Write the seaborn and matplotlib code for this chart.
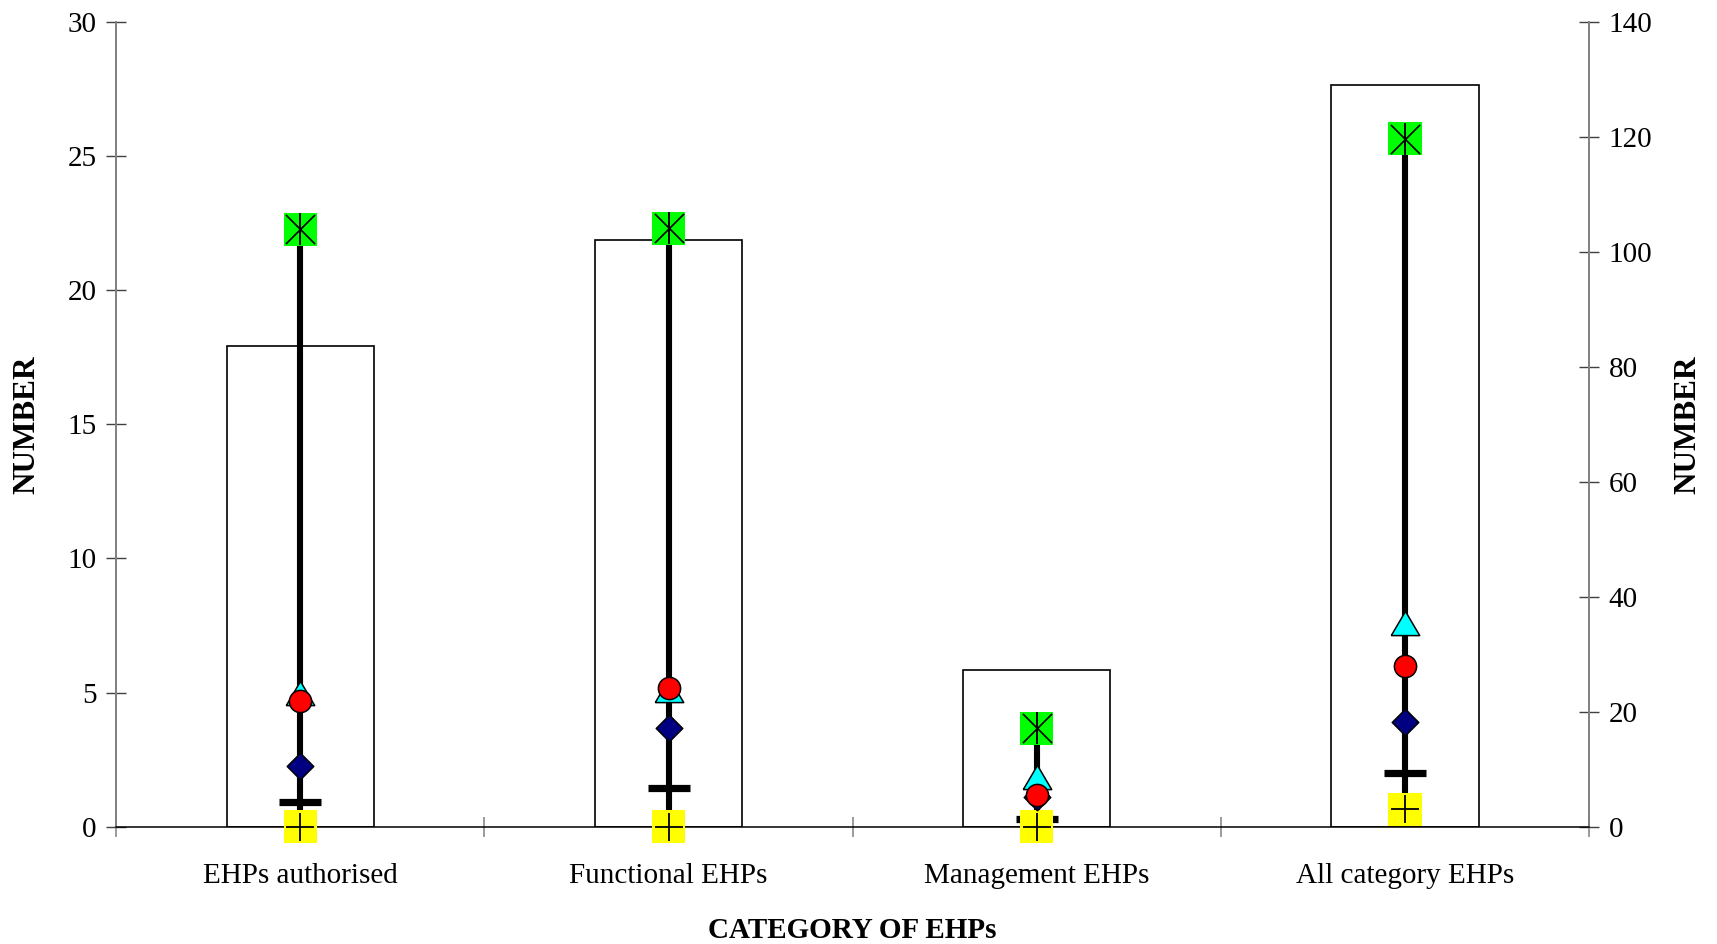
import numpy as np
import pandas as pd
import matplotlib
matplotlib.use("Agg")
import matplotlib.pyplot as plt
import seaborn as sns

# ---------------- data ----------------
categories = ["EHPs authorised", "Functional EHPs", "Management EHPs", "All category EHPs"]
bar_totals = [83.7, 102.1, 27.3, 129.0]      # right axis (bars)
max_vals = [22.26, 22.3, 3.67, 25.65]        # green square with asterisk
upper_vals = [4.99, 5.10, 1.85, 7.61]        # cyan triangle
mean_vals = [4.70, 5.16, 1.19, 5.98]         # red circle
median_vals = [2.27, 3.69, 1.10, 3.91]       # navy diamond
lower_vals = [0.92, 1.43, 0.28, 2.02]        # black dash
min_vals = [0.0, 0.0, 0.0, 0.65]             # yellow square with plus
left_ticks = [0, 5, 10, 15, 20, 25, 30]
right_ticks = [0, 20, 40, 60, 80, 100, 120, 140]

# ---------------- style ----------------
sns.set_theme(style="white")
plt.rcParams["font.family"] = ["Liberation Serif", "DejaVu Serif"]
plt.rcParams["text.color"] = "black"
plt.rcParams["axes.labelcolor"] = "black"

FS = 21
fig = plt.figure(figsize=(17.17, 9.44), dpi=100)
ax = fig.add_axes([0.0676, 0.1242, 0.858, 0.8527])
ax2 = ax.twinx()

# bars on the right axis
df_bar = pd.DataFrame({"category": categories, "total": bar_totals})
sns.barplot(data=df_bar, x="category", y="total", ax=ax2, color="white",
            edgecolor="black", linewidth=1.2, width=0.4, saturation=1)

# markers on the left axis
xpos = np.arange(len(categories))
ax.vlines(xpos, min_vals, max_vals, color="black", lw=4.4, zorder=2)

sns.scatterplot(x=xpos, y=lower_vals, ax=ax, marker="_", s=30 ** 2,
                color="black", linewidth=5.2, zorder=3, clip_on=False)
sns.scatterplot(x=xpos, y=min_vals, ax=ax, marker="s", s=24 ** 2,
                color="#FFFF00", edgecolor="none", linewidth=0, zorder=4, clip_on=False)
sns.scatterplot(x=xpos, y=min_vals, ax=ax, marker="+", s=20 ** 2,
                color="black", linewidth=1.3, zorder=5, clip_on=False)
sns.scatterplot(x=xpos, y=median_vals, ax=ax, marker="D", s=13.5 ** 2,
                color="#000080", edgecolor="black", linewidth=1.1, zorder=5)
tri = [(-1, -0.85), (1, -0.85), (0, 0.85), (-1, -0.85)]
sns.scatterplot(x=xpos, y=upper_vals, ax=ax, marker=tri, s=20.5 ** 2,
                color="#00FFFF", edgecolor="black", linewidth=1.1, zorder=6)
sns.scatterplot(x=xpos, y=mean_vals, ax=ax, marker="o", s=16 ** 2,
                color="#FF0000", edgecolor="black", linewidth=1.1, zorder=7)
sns.scatterplot(x=xpos, y=max_vals, ax=ax, marker="s", s=24 ** 2,
                color="#00FF00", edgecolor="none", linewidth=0, zorder=8)
sns.scatterplot(x=xpos, y=max_vals, ax=ax, marker="x", s=21 ** 2,
                color="black", linewidth=1.2, zorder=9)
sns.scatterplot(x=xpos, y=max_vals, ax=ax, marker="|", s=23 ** 2,
                color="black", linewidth=1.4, zorder=9)

# layering: markers axis above bar axis
ax.set_zorder(2)
ax2.set_zorder(1)
ax.patch.set_visible(False)

# ---------------- axes ----------------
ax.set_xlim(-0.5, len(categories) - 0.5)
ax.set_ylim(0, 30)
ax2.set_ylim(0, 140)
ax.set_yticks(left_ticks)
ax2.set_yticks(right_ticks)
ax.set_xticks(xpos, labels=categories)
ax.set_xticks(np.arange(len(categories) + 1) - 0.5, minor=True)
ax.tick_params(axis="x", which="major", length=0, pad=26, labelsize=FS, colors="black")
ax.tick_params(axis="x", which="minor", direction="inout", length=14, width=1.1,
               color="#808080", bottom=True)
ax.tick_params(axis="y", which="major", direction="inout", length=14, width=1.0,
               color="#404040", labelsize=FS, pad=7, left=True, labelcolor="black")
ax2.tick_params(axis="y", which="major", direction="inout", length=14, width=1.0,
                color="#404040", labelsize=FS, pad=7, right=True, labelcolor="black")
ax.grid(False)
ax2.grid(False)

for s in ["top", "right"]:
    ax.spines[s].set_visible(False)
ax.spines["left"].set_color("#808080")
ax.spines["left"].set_linewidth(1.4)
ax.spines["bottom"].set_color("black")
ax.spines["bottom"].set_linewidth(1.1)
for s in ["top", "left", "bottom"]:
    ax2.spines[s].set_visible(False)
ax2.spines["right"].set_color("#808080")
ax2.spines["right"].set_linewidth(1.4)

ax.set_xlabel("CATEGORY OF EHPs", fontsize=FS, fontweight="bold", labelpad=20, color="black")
ax2.set_xlabel("")
ax.set_ylabel("NUMBER", fontsize=22.5, fontweight="bold", color="black")
ax2.set_ylabel("NUMBER", fontsize=22.5, fontweight="bold", color="black")
ax.yaxis.set_label_coords(-0.0604, 0.5)
ax2.yaxis.set_label_coords(1.067, 0.5)
ax.yaxis.label.set_va("center")
ax2.yaxis.label.set_va("center")

fig.savefig("out.png", dpi=100, facecolor="white")
